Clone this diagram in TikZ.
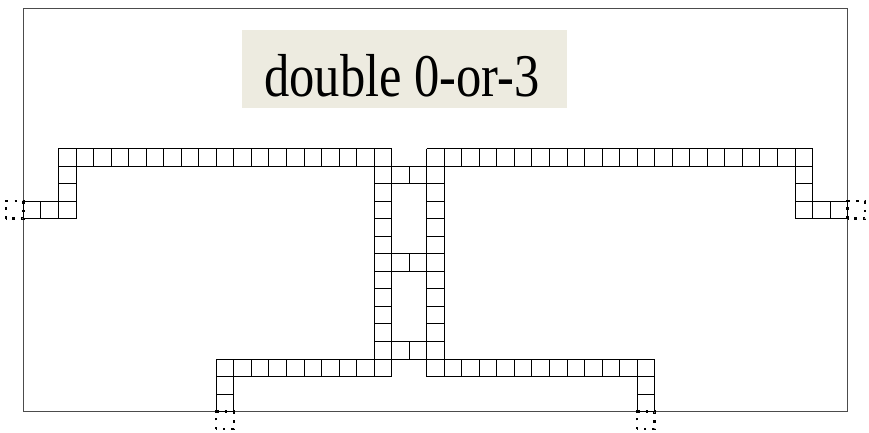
\documentclass[tikz,border=0pt]{standalone}
\usepackage{fontspec}
\setmainfont{Liberation Serif}
\usepackage{tikz}

\definecolor{labelbg}{HTML}{EDEBE0}

\begin{document}
\begin{tikzpicture}[scale=0.5, cell/.style={line width=0.7pt, black}, ghost/.style={line width=2pt, dash pattern=on 2pt off 5.1pt}]
	\useasboundingbox (-1.33,-1.21) rectangle (48.22,23.47);
	
	% outer frame
	\draw[line width=0.9pt, black!70] (0,0) rectangle (47,23);
	
	% title
	\node (titlebox) [fill=labelbg, minimum width=9.26cm, minimum height=2.22cm, inner sep=0pt] at (21.73,19.55) {};
	\node (title) [anchor=base, inner sep=0pt, font=\fontsize{41}{49}\selectfont] at (21.6,17.96) {\scalebox{1}[1.2]{double 0-or-3}};
	
	% left arm
	\draw[cell] (2,14) grid (21,15);
	\draw[cell] (2,12) grid (3,14);
	\draw[cell] (0,11) grid (3,12);
	
	% right arm
	\draw[cell] (23,14) grid (45,15);
	\draw[cell] (44,12) grid (45,14);
	\draw[cell] (44,11) grid (47,12);
	
	% two columns in the middle
	\draw[cell] (20,2) grid (21,15);
	\draw[cell] (23,2) grid (24,15);
	
	% rungs between the columns
	\foreach \y in {3,8,13}
		\draw[cell] (21,\y) grid (23,\y+1);
	
	% bottom arms
	\draw[cell] (11,2) grid (21,3);
	\draw[cell] (11,0) grid (12,2);
	\draw[cell] (23,2) grid (36,3);
	\draw[cell] (35,0) grid (36,2);
	
	% dotted ports outside the frame
	\draw[ghost] (-1,11) rectangle (0,12);
	\draw[ghost] (47,11) rectangle (48,12);
	\draw[ghost] (11,-1) rectangle (12,0);
	\draw[ghost] (35,-1) rectangle (36,0);
\end{tikzpicture}
\end{document}
